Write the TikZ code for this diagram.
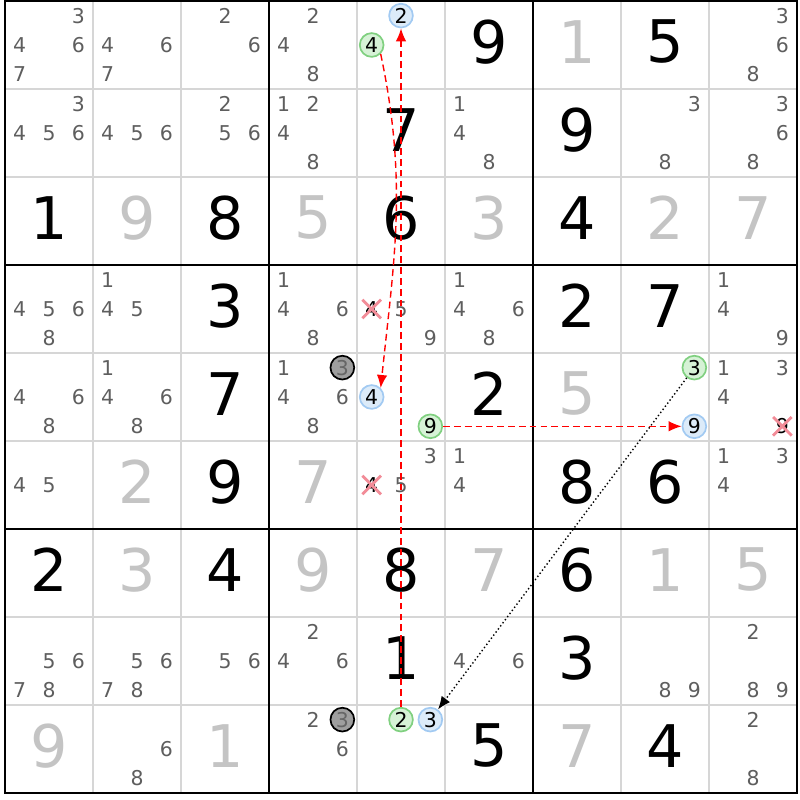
\documentclass[tikz,border=0pt]{standalone}
\usepackage{fontspec}
\setmainfont{DejaVu Sans}
\usetikzlibrary{arrows.meta,shapes.misc}
\definecolor{given}{HTML}{C4C4C4}
\definecolor{candgray}{HTML}{5E5E5E}
\definecolor{gridgray}{HTML}{D6D6D6}
\definecolor{hitgreen}{HTML}{80D080}
\definecolor{hitgreenbg}{HTML}{D6F2D6}
\definecolor{hitblue}{HTML}{A2CAF2}
\definecolor{hitbluebg}{HTML}{DCEBF9}
\definecolor{crossred}{HTML}{F28C98}
\tikzset{
  cand/.style={font=\fontsize{6.6}{7}\selectfont, text=candgray, inner sep=0pt},
  solved/.style={font=\fontsize{19}{20}\selectfont, inner sep=0pt},
  clue/.style={solved, text=given},
  oncell/.style={circle, inner sep=0pt, minimum size=0.27cm, line width=0.55pt, font=\fontsize{6.6}{7}\selectfont},
  ongreen/.style={oncell, draw=hitgreen, fill=hitgreenbg},
  onblue/.style={oncell, draw=hitblue, fill=hitbluebg},
  ongray/.style={oncell, draw=black, fill=black!38, text=black!60},
  gone/.style={cand, text=black, cross out, draw=crossred, line width=0.9pt, minimum size=0.18cm},
  link/.style={red, dash pattern=on 2.2pt off 1.3pt, line width=0.45pt, -{Latex[length=4.2pt,width=3.4pt]}},
  weak/.style={black, dash pattern=on 0.45pt off 0.8pt, line width=0.45pt, -{Latex[length=4.2pt,width=3.4pt]}}
}
% [style]{row}{col}{digit}
\newcommand\cand[4][cand]{%
  \node[#1] (n#2#3#4) at ({#3-1+(2*mod(#4-1,3)+1)/6},{#2-1+(2*div(#4-1,3)+1)/6}) {#4};}
\newcommand\cands[3]{\foreach \d in {#3}{\cand{#1}{#2}{\d}}}
\begin{document}
\begin{tikzpicture}[x=1cm,y=-1cm]
  \useasboundingbox (-0.057,-0.011) rectangle (9.034,9.08);
  % grid
  \foreach \i in {1,2,4,5,7,8}
    \draw[gridgray, line width=0.5pt] (\i,0) -- (\i,9) (0,\i) -- (9,\i);
  \foreach \i in {3,6}
    \draw[line width=0.9pt] (\i,0) -- (\i,9) (0,\i) -- (9,\i);
  \draw[line width=0.9pt] (0,0) rectangle (9,9);

  % solved and given digits
  \foreach \r/\c/\v in {1/6/9,1/8/5,2/5/7,2/7/9,3/1/1,3/3/8,3/5/6,3/7/4,4/3/3,4/7/2,4/8/7,
      5/3/7,5/6/2,6/3/9,6/7/8,6/8/6,7/1/2,7/3/4,7/5/8,7/7/6,8/5/1,8/7/3,9/6/5,9/8/4}
    \node[solved] (s\r\c) at (\c-0.5,\r-0.535) {\v};
  \foreach \r/\c/\v in {1/7/1,3/2/9,3/4/5,3/6/3,3/8/2,3/9/7,5/7/5,6/2/2,6/4/7,
      7/2/3,7/4/9,7/6/7,7/8/1,7/9/5,9/1/9,9/3/1,9/7/7}
    \node[clue] (s\r\c) at (\c-0.5,\r-0.535) {\v};

  % candidates
  \cands{1}{1}{3,4,6,7} \cands{1}{2}{4,6,7} \cands{1}{3}{2,6} \cands{1}{4}{2,4,8} \cands{1}{9}{3,6,8}
  \cands{2}{1}{3,4,5,6} \cands{2}{2}{4,5,6} \cands{2}{3}{2,5,6} \cands{2}{4}{1,2,4,8}
  \cands{2}{6}{1,4,8} \cands{2}{8}{3,8} \cands{2}{9}{3,6,8}
  \cands{4}{1}{4,5,6,8} \cands{4}{2}{1,4,5} \cands{4}{4}{1,4,6,8} \cands{4}{5}{5,9}
  \cands{4}{6}{1,4,6,8} \cands{4}{9}{1,4,9}
  \cands{5}{1}{4,6,8} \cands{5}{2}{1,4,6,8} \cands{5}{4}{1,4,6,8} \cands{5}{9}{1,3,4}
  \cands{6}{1}{4,5} \cands{6}{5}{3,5} \cands{6}{6}{1,4} \cands{6}{9}{1,3,4}
  \cands{8}{1}{5,6,7,8} \cands{8}{2}{5,6,7,8} \cands{8}{3}{5,6} \cands{8}{4}{2,4,6}
  \cands{8}{6}{4,6} \cands{8}{8}{8,9} \cands{8}{9}{2,8,9}
  \cands{9}{2}{6,8} \cands{9}{4}{2,6} \cands{9}{9}{2,8}

  % eliminated
  \cand[gone]{4}{5}{4} \cand[gone]{6}{5}{4} \cand[gone]{5}{9}{9}

  % chain
  \cand[ongreen]{1}{5}{4} \cand[onblue]{1}{5}{2}
  \cand[onblue]{5}{5}{4} \cand[ongreen]{5}{5}{9}
  \cand[ongreen]{5}{8}{3} \cand[onblue]{5}{8}{9}
  \cand[ongreen]{9}{5}{2} \cand[onblue]{9}{5}{3}
  \cand[ongray]{5}{4}{3} \cand[ongray]{9}{4}{3}

  \draw[link] (n154.south east) to[out=-78,in=84] (n554.north east);
  \draw[link] (n952) -- (n152);
  \draw[link] (n559) -- (n589);
  \draw[weak] (n583) -- (n953);
\end{tikzpicture}
\end{document}
